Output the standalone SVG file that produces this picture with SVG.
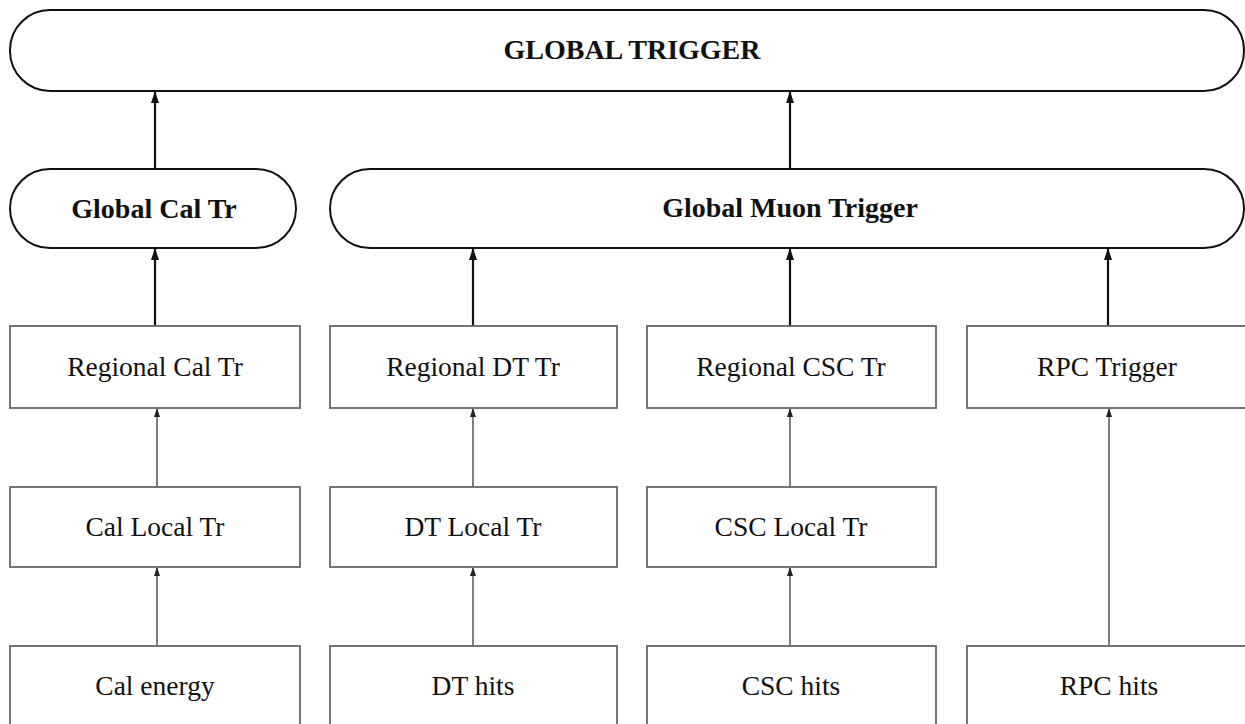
<svg xmlns="http://www.w3.org/2000/svg" width="1245" height="724" viewBox="0 0 1245 724">
<defs>
<marker id="ah" markerWidth="8" markerHeight="12" refX="4" refY="1" orient="0" markerUnits="userSpaceOnUse">
<path d="M4,0 L8,12 L0,12 Z" fill="#111"/>
</marker>
<marker id="ahs" markerWidth="6" markerHeight="9" refX="3" refY="1" orient="0" markerUnits="userSpaceOnUse">
<path d="M3,0 L6,9 L0,9 Z" fill="#222"/>
</marker>
</defs>
<style>
.stad{fill:#fff;stroke:#111;stroke-width:2}
.box{fill:#fff;stroke:#666;stroke-width:1.8}
.t{font-family:"Liberation Serif","Times New Roman",serif;font-size:27.5px;fill:#111;text-anchor:middle}
.b{font-weight:bold;font-size:28px}
.thick{stroke:#111;stroke-width:2.2;fill:none}
.thin{stroke:#555;stroke-width:1.5;fill:none}
</style>
<rect width="1245" height="724" fill="#fff"/>
<g id="connectors">
<line class="thick" x1="155" y1="169" x2="155" y2="92" marker-end="url(#ah)"/>
<line class="thick" x1="790" y1="169" x2="790" y2="92" marker-end="url(#ah)"/>
<line class="thick" x1="155" y1="326" x2="155" y2="249" marker-end="url(#ah)"/>
<line class="thick" x1="473" y1="326" x2="473" y2="249" marker-end="url(#ah)"/>
<line class="thick" x1="790" y1="326" x2="790" y2="249" marker-end="url(#ah)"/>
<line class="thick" x1="1108" y1="326" x2="1108" y2="249" marker-end="url(#ah)"/>
<line class="thin" x1="157" y1="487" x2="157" y2="409" marker-end="url(#ahs)"/>
<line class="thin" x1="157" y1="646" x2="157" y2="568" marker-end="url(#ahs)"/>
<line class="thin" x1="473" y1="487" x2="473" y2="409" marker-end="url(#ahs)"/>
<line class="thin" x1="473" y1="646" x2="473" y2="568" marker-end="url(#ahs)"/>
<line class="thin" x1="790" y1="487" x2="790" y2="409" marker-end="url(#ahs)"/>
<line class="thin" x1="790" y1="646" x2="790" y2="568" marker-end="url(#ahs)"/>
<line class="thin" x1="1109" y1="646" x2="1109" y2="409" marker-end="url(#ahs)"/>
</g>
<g id="global-trigger">
<rect class="stad" x="10" y="10" width="1234" height="81" rx="40" ry="40"/>
<text class="t b" x="632" y="59">GLOBAL TRIGGER</text>
</g>
<g id="global-cal-tr">
<rect class="stad" x="10" y="169" width="286" height="79" rx="40" ry="39.5"/>
<text class="t b" x="154" y="218">Global Cal Tr</text>
</g>
<g id="global-muon-trigger">
<rect class="stad" x="330" y="169" width="914" height="79" rx="40" ry="39.5"/>
<text class="t b" x="790" y="217">Global Muon Trigger</text>
</g>
<g id="regional-cal">
<rect class="box" x="10" y="326" width="290" height="82"/>
<text class="t" x="155" y="376">Regional Cal Tr</text>
</g>
<g id="regional-dt">
<rect class="box" x="330" y="326" width="287" height="82"/>
<text class="t" x="473" y="376">Regional DT Tr</text>
</g>
<g id="regional-csc">
<rect class="box" x="647" y="326" width="289" height="82"/>
<text class="t" x="791" y="376">Regional CSC Tr</text>
</g>
<g id="rpc-trigger">
<rect class="box" x="967" y="326" width="280" height="82"/>
<text class="t" x="1107" y="376">RPC Trigger</text>
</g>
<g id="cal-local">
<rect class="box" x="10" y="487" width="290" height="80"/>
<text class="t" x="155" y="536">Cal Local Tr</text>
</g>
<g id="dt-local">
<rect class="box" x="330" y="487" width="287" height="80"/>
<text class="t" x="473" y="536">DT Local Tr</text>
</g>
<g id="csc-local">
<rect class="box" x="647" y="487" width="289" height="80"/>
<text class="t" x="791" y="536">CSC Local Tr</text>
</g>
<g id="cal-energy">
<rect class="box" x="10" y="646" width="290" height="82"/>
<text class="t" x="155" y="695">Cal energy</text>
</g>
<g id="dt-hits">
<rect class="box" x="330" y="646" width="287" height="82"/>
<text class="t" x="473" y="695">DT hits</text>
</g>
<g id="csc-hits">
<rect class="box" x="647" y="646" width="289" height="82"/>
<text class="t" x="791" y="695">CSC hits</text>
</g>
<g id="rpc-hits">
<rect class="box" x="967" y="646" width="280" height="82"/>
<text class="t" x="1109" y="695">RPC hits</text>
</g>
</svg>
